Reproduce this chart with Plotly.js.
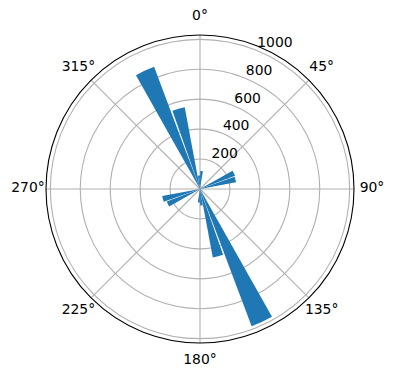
<!DOCTYPE html>
<html>
<head>
<meta charset="utf-8">
<script src="https://cdn.plot.ly/plotly-3.0.1.min.js"></script>
<style>
html,body{margin:0;padding:0;background:#fff;}
#chart{width:396px;height:380px;}
</style>
</head>
<body>
<div id="chart"></div>
<script>
// Wind-rose style polar bar data (direction bin centres in degrees, counts)
var directions = [5, 65, 75, 155, 165, 175, 185, 245, 255, 335, 345, 355];
var counts     = [120, 250, 245, 980, 465, 110, 90, 237, 257, 872, 555, 90];
var radialTicks = [200, 400, 600, 800, 1000];
var angleTicks = [0, 45, 90, 135, 180, 225, 270, 315];
var angleLabels = ["0°", "45°", "90°", "135°", "180°", "225°", "270°", "315°"];

var rMax = 1029;                 // radial axis upper limit
var radialLabelAngle = 22.5;     // direction where the radial tick labels sit

var W = 396, H = 380, cx = 200, cy = 189, R = 154, RL = 172;
var font = {family: 'DejaVu Sans', size: 13.9, color: '#000'};

var bars = {
  type: 'barpolar',
  theta: directions,
  r: counts,
  width: directions.map(function(){ return 8.8; }),
  marker: {color: '#1f77b4', line: {width: 0}},
  hoverinfo: 'skip'
};

var radLabels = {
  type: 'scatterpolar',
  mode: 'text',
  theta: radialTicks.map(function(){ return radialLabelAngle; }),
  r: radialTicks,
  text: radialTicks.map(String),
  textposition: 'top right',
  textfont: font,
  cliponaxis: false,
  hoverinfo: 'skip'
};

// angular tick labels, on a transparent outer polar frame of unit radius
var angLabels = {
  type: 'scatterpolar',
  subplot: 'polar2',
  mode: 'text',
  theta: angleTicks,
  r: angleTicks.map(function(){ return 1; }),
  text: angleLabels,
  textposition: 'middle center',
  textfont: font,
  cliponaxis: false,
  hoverinfo: 'skip'
};

function dom(rad) {
  return {x: [(cx - rad) / W, (cx + rad) / W], y: [(H - cy - rad) / H, (H - cy + rad) / H]};
}

var layout = {
  width: W, height: H,
  margin: {l: 0, r: 0, t: 0, b: 0},
  paper_bgcolor: '#fff',
  showlegend: false,
  font: font,
  polar: {
    domain: dom(R),
    bgcolor: '#fff',
    bargap: 0,
    angularaxis: {
      direction: 'clockwise',
      rotation: 90,
      tickmode: 'array',
      tickvals: angleTicks,
      showticklabels: false,
      ticks: '',
      showline: true,
      linecolor: '#000',
      linewidth: 1.1,
      showgrid: true,
      gridcolor: '#b0b0b0',
      gridwidth: 1.1
    },
    radialaxis: {
      range: [0, rMax],
      tickmode: 'array',
      tickvals: radialTicks,
      showticklabels: false,
      angle: 67.5,
      showline: false,
      ticks: '',
      showgrid: true,
      gridcolor: '#b0b0b0',
      gridwidth: 1.1
    }
  },
  polar2: {
    domain: dom(RL),
    bgcolor: 'rgba(0,0,0,0)',
    angularaxis: {direction: 'clockwise', rotation: 90, visible: false, showgrid: false, showline: false, showticklabels: false},
    radialaxis: {range: [0, 1], visible: false, showgrid: false, showline: false, showticklabels: false}
  }
};

Plotly.newPlot('chart', [bars, radLabels, angLabels], layout, {displayModeBar: false, staticPlot: true});
</script>
</body>
</html>
